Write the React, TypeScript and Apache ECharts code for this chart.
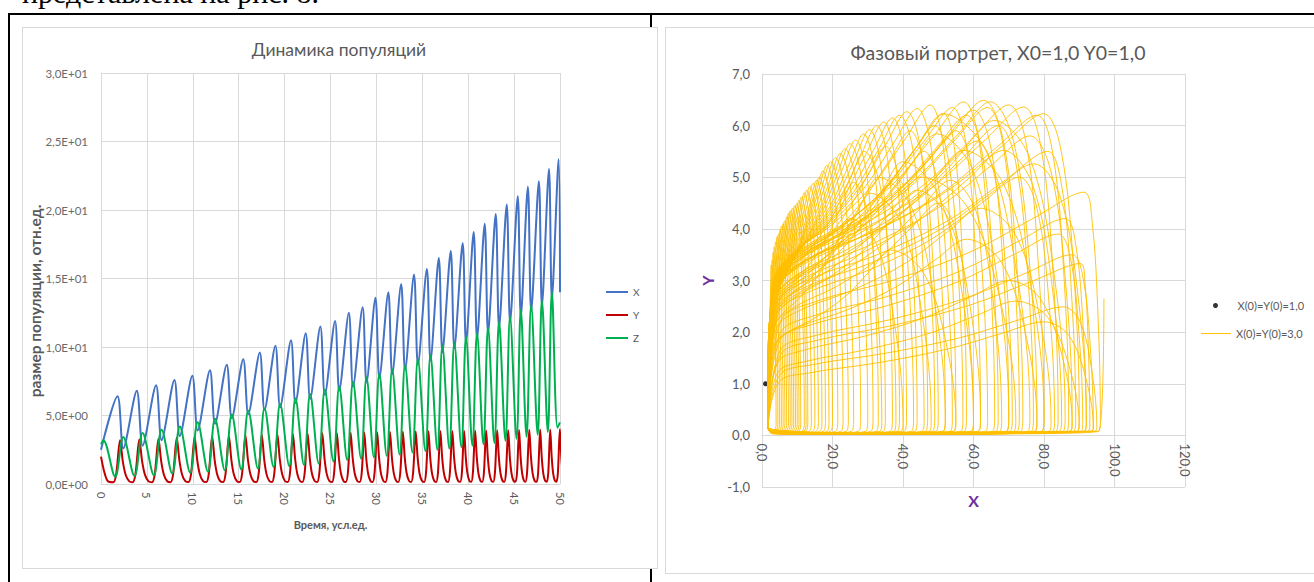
import { useEffect, useRef } from 'react';
import * as echarts from 'echarts';

const FONT = 'Lato, "Noto Sans", sans-serif';

// ---------------- Left chart: "Динамика популяций" ----------------
const dynTitle = 'Динамика популяций';
const seriesNames = ['X', 'Y', 'Z'];
const timeAxisName = 'Время, усл.ед.';
const sizeAxisName = 'размер популяции, отн.ед.';

// times of the X (blue) maxima
const bluePeakT = [1.8, 3.9, 6.0, 8.0, 9.95, 11.87, 13.7, 15.5, 17.3, 19.0, 20.7, 22.3, 23.9, 25.5, 27.0,
  28.5, 29.9, 31.3, 32.7, 34.1, 35.5, 36.8, 38.1, 39.4, 40.6, 41.8, 43.0, 44.2, 45.4, 46.5, 47.7, 48.8, 49.85];
const bluePeakV = [6.4, 6.8, 7.2, 7.6, 7.9, 8.3, 8.7, 9.1, 9.6, 10.1, 10.5, 11.0, 11.5, 11.9, 12.5,
  12.9, 13.6, 14.0, 14.6, 15.3, 15.7, 16.5, 17.0, 17.6, 18.4, 19.0, 19.7, 20.4, 21.0, 21.7, 22.1, 23.0, 23.7];
const blueTroughV = [2.6, 2.8, 3.2, 3.5, 3.9, 4.4, 4.8, 5.1, 5.4, 5.6, 5.9, 6.2, 6.5, 6.8, 7.1,
  7.4, 7.7, 8.0, 8.3, 8.7, 9.0, 9.6, 9.9, 10.3, 10.6, 11.0, 11.4, 11.8, 12.2, 12.6, 13.0, 13.5];
const greenTroughV = [0.53, 0.58, 0.65, 0.77, 0.82, 0.9, 1.0, 1.06, 1.13, 1.25, 1.3, 1.4, 1.5, 1.65, 1.75,
  1.85, 1.95, 2.05, 2.15, 2.3, 2.4, 2.5, 2.6, 2.7, 2.8, 2.9, 3.0, 3.15, 3.3, 3.45, 3.6, 3.8, 4.1];
const greenPeakV = [3.43, 3.72, 3.96, 4.2, 4.5, 4.76, 5.07, 5.36, 5.53, 5.85, 6.26, 6.57, 6.9, 7.14, 7.46,
  7.8, 8.05, 8.37, 8.66, 9.1, 9.4, 10.1, 10.3, 10.75, 11.0, 11.4, 11.85, 12.2, 12.7, 13.07, 13.4, 14.0];
const redPeakV = [3.2, 3.24, 3.3, 3.38, 3.43, 3.48, 3.5, 3.55, 3.6, 3.62, 3.65, 3.68, 3.7, 3.72, 3.74,
  3.76, 3.78, 3.8, 3.82, 3.84, 3.85, 3.86, 3.87, 3.88, 3.9, 3.91, 3.92, 3.93, 3.95, 3.96, 3.97, 3.98, 4.0];

// start / end values read at t = 0 and t = 50
const blueStart = [0, 2.5];
const blueEnd = [50, 14.0];
const greenStart = [[0, 2.9], [0.25, 3.2]];
const greenEnd = [50, 4.5];
const redStart = [[0, 2.0], [0.35, 0.9], [0.75, 0.2]];

// phase of each extremum within a cycle (fraction of the period)
const blueTroughLag = 0.3;
const greenTroughLead = 0.12;
const greenPeakLag = 0.3;
const redPeakLag = 0.13;
const redShapePhase = [-0.35, -0.2, 0, 0.15, 0.3, 0.48];
const redShapeLevel = [0.04, 0.22, 1, 0.5, 0.2, 0.06];

// ---------------- Right chart: phase portrait ----------------
const phaseTitle = 'Фазовый портрет, X0=1,0 Y0=1,0';
const pointName = 'X(0)=Y(0)=1,0';
const lineName = 'X(0)=Y(0)=3,0';
const pointData = [[1, 1]];
// each loop: right-most X, position and height of its top
const phaseRightX = [4, 4.5, 5, 5.5, 6, 6.5, 7, 7.5, 8, 8.5, 9, 9.5, 10, 10.5, 11, 12, 12.5, 13, 14, 15,
  16, 17, 18, 19, 20, 21.5, 23, 24.5, 26, 28, 30, 31.5, 33, 35, 37, 39, 41, 44, 47, 49,
  52, 55, 58, 62, 66, 70, 74, 78, 84, 90, 96, 92, 85, 80, 70, 62, 55, 48, 68, 88,
  95, 93, 88, 76, 82, 94, 72, 60, 86, 91, 40, 52, 78,
  34, 38, 43, 46, 50, 54, 57, 60, 64, 67, 71, 73, 77, 80, 83, 87, 89, 92, 94, 90];
const phasePeakX = [2.6, 2.9, 3.2, 3.5, 3.9, 4.3, 4.7, 5.1, 5.5, 6.0, 6.4, 7.0, 7.5, 8.0, 8.6, 9.3, 9.85, 10.5, 11.2, 12.0,
  12.7, 13.6, 14.5, 15.5, 16.3, 17.3, 18.4, 19.5, 20.8, 22.2, 23.5, 25, 26.5, 28.8, 30.5, 32.5, 34.5, 37, 39, 41.1,
  44, 47.7, 51.5, 54, 57.2, 60, 62.9, 64.8, 74.2, 79.9, 91.3, 77.1, 68.5, 57.2, 49.6, 44, 36.4, 30.7, 53.4, 70,
  85.6, 90.3, 76, 51.5, 62, 80, 45, 40, 66, 84, 25, 33, 58,
  26, 29, 35, 38, 42, 46, 49, 50, 55, 58, 61, 64, 67, 70, 73, 78, 81, 86, 88, 72];
const phasePeakY = [3.3, 3.4, 3.55, 3.65, 3.75, 3.85, 3.9, 3.97, 4.05, 4.1, 4.15, 4.23, 4.3, 4.35, 4.4, 4.45, 4.49, 4.55, 4.62, 4.7,
  4.75, 4.82, 4.88, 4.94, 5.0, 5.12, 5.23, 5.3, 5.38, 5.46, 5.55, 5.65, 5.72, 5.84, 5.92, 6.0, 6.07, 6.15, 6.2, 6.27,
  6.33, 6.4, 6.23, 6.35, 6.46, 6.3, 6.49, 6.46, 6.36, 6.23, 4.71, 5.26, 5.52, 5.52, 5.84, 4.75, 3.59, 4.69, 4.94, 3.0,
  2.49, 3.33, 5.8, 6.23, 4.4, 2.2, 5.0, 5.3, 6.1, 3.9, 4.2, 5.0, 3.8,
  4.9, 5.5, 5.6, 5.0, 5.9, 5.5, 6.0, 4.5, 5.9, 6.2, 5.7, 6.35, 6.0, 6.4, 5.0, 6.2, 5.5, 4.2, 3.5, 2.6];
const phaseLeftX = 1.7;
const phaseBottomY = [0.15, 0.03, 0.08];
const phaseHead = [[3, 3], [2.2, 1.6]];
const phaseTail = [[1.7, 0.15], [60, 0.03], [95.5, 0.08], [97, 2.65]];
// loop outline read from a typical loop (fractions of the loop's size)
const arcRightU = [1, 0.85, 0.5, 0];
const arcRightV = [0.06, 0.5, 0.88, 1];
const arcLeftU = [0.85, 0.65, 0.4, 0.15, 0.04];
const arcLeftV = [0.9, 0.76, 0.64, 0.55, 0.47];

function periodAt(i: number) {
  return i < bluePeakT.length - 1 ? bluePeakT[i + 1] - bluePeakT[i] : bluePeakT[i] - bluePeakT[i - 1];
}

function buildDynamics() {
  const blue: number[][] = [blueStart];
  const green: number[][] = [...greenStart];
  const red: number[][] = [...redStart];
  bluePeakT.forEach((tp, i) => {
    const T = periodAt(i);
    blue.push([tp, bluePeakV[i]]);
    if (i < blueTroughV.length) blue.push([tp + blueTroughLag * T, blueTroughV[i]]);
    green.push([tp - greenTroughLead * T, greenTroughV[i]]);
    if (i < greenPeakV.length) green.push([tp + greenPeakLag * T, greenPeakV[i]]);
    const tr = tp + redPeakLag * T;
    redShapePhase.forEach((ph, k) => red.push([tr + ph * T, redShapeLevel[k] * redPeakV[i]]));
  });
  blue.push(blueEnd);
  green.push(greenEnd);
  return { blue, green, red };
}

function buildPhase() {
  const pts: number[][] = [...phaseHead];
  const xL = phaseLeftX;
  phaseRightX.forEach((xR, i) => {
    const xp = phasePeakX[i];
    const yp = phasePeakY[i];
    pts.push([xL, phaseBottomY[0]]);
    pts.push([xL + 0.5 * (xR - xL), phaseBottomY[1]]);
    pts.push([xR - 0.6, phaseBottomY[2]]);
    arcRightU.forEach((u, k) => pts.push([xp + u * (xR - xp), arcRightV[k] * yp]));
    arcLeftU.forEach((u, k) => pts.push([xL + u * (xp - xL), arcLeftV[k] * yp]));
  });
  phaseTail.forEach((p) => pts.push(p));
  return pts;
}

function sciLabel(v: number) {
  if (v === 0) return '0,0E+00';
  const e = Math.floor(Math.log10(v) + 1e-9);
  const m = v / Math.pow(10, e);
  return m.toFixed(1).replace('.', ',') + 'E+' + String(e).padStart(2, '0');
}
function commaLabel(v: number) {
  return v.toFixed(1).replace('.', ',');
}

const grey = '#595959';
const gridGrey = '#d9d9d9';

function buildOption(): any {
  const dyn = buildDynamics();
  const phase = buildPhase();
  return {
    animation: false,
    textStyle: { fontFamily: FONT },
    title: [
      { text: dynTitle, left: 339, top: 40, textAlign: 'center', padding: 0,
        textStyle: { fontSize: 17.5, fontWeight: 'normal', color: grey, fontFamily: FONT } },
      { text: phaseTitle, left: 998, top: 42, textAlign: 'center', padding: 0,
        textStyle: { fontSize: 19.5, fontWeight: 'normal', color: grey, fontFamily: FONT } },
    ],
    graphic: [
      { type: 'text', x: 35, y: 301, rotation: Math.PI / 2,
        style: { text: sizeAxisName, align: 'center', verticalAlign: 'middle', fill: grey,
          font: 'bold 15.5px ' + FONT } },
    ],
    legend: [
      { data: seriesNames, orient: 'vertical', left: 606, top: 287, itemWidth: 22, itemHeight: 2, itemGap: 13,
        icon: 'rect', selectedMode: false, padding: 0,
        textStyle: { fontSize: 10, color: grey, fontFamily: FONT } },
      { data: [{ name: pointName, icon: 'circle' }], left: 1213, top: 300, itemWidth: 30, itemHeight: 5,
        selectedMode: false, padding: 0, textStyle: { fontSize: 11, color: grey, fontFamily: FONT, padding: [0, 0, 0, 2] } },
      { data: [{ name: lineName, icon: 'rect' }], left: 1201, top: 328, itemWidth: 30, itemHeight: 1,
        selectedMode: false, padding: 0, textStyle: { fontSize: 11, color: grey, fontFamily: FONT } },
    ],
    grid: [
      { left: 101, top: 73, width: 459, height: 411 },
      { left: 762, top: 74, width: 423, height: 413 },
    ],
    xAxis: [
      { type: 'value', gridIndex: 0, min: 0, max: 50, interval: 5,
        axisLine: { show: true, lineStyle: { color: gridGrey } }, axisTick: { show: false },
        splitLine: { show: true, lineStyle: { color: gridGrey } },
        axisLabel: { rotate: -90, fontSize: 11, color: grey, margin: 8, fontFamily: FONT },
        name: timeAxisName, nameLocation: 'middle', nameGap: 35,
        nameTextStyle: { fontSize: 11, fontWeight: 'bold', color: grey, fontFamily: FONT } },
      { type: 'value', gridIndex: 1, min: 0, max: 120, interval: 20, position: 'bottom', offset: -413 / 8,
        axisLine: { show: true, onZero: false, lineStyle: { color: gridGrey } }, axisTick: { show: false },
        splitLine: { show: true, lineStyle: { color: gridGrey } },
        axisLabel: { rotate: -90, fontSize: 13, color: grey, margin: 8, formatter: commaLabel, fontFamily: FONT },
        name: 'X', nameLocation: 'middle', nameGap: 57,
        nameTextStyle: { fontSize: 16, fontWeight: 'bold', color: '#7030A0', fontFamily: FONT } },
    ],
    yAxis: [
      { type: 'value', gridIndex: 0, min: 0, max: 30, interval: 5,
        axisLine: { show: true, lineStyle: { color: gridGrey } }, axisTick: { show: false },
        splitLine: { show: true, lineStyle: { color: gridGrey } },
        axisLabel: { fontSize: 11.5, color: '#6a6a6a', margin: 13, formatter: sciLabel, fontFamily: FONT } },
      { type: 'value', gridIndex: 1, min: -1, max: 7, interval: 1,
        axisLine: { show: true, onZero: false, lineStyle: { color: gridGrey } }, axisTick: { show: false },
        splitLine: { show: true, lineStyle: { color: gridGrey } },
        axisLabel: { fontSize: 13, color: grey, margin: 12, formatter: commaLabel, fontFamily: FONT },
        name: 'Y', nameLocation: 'middle', nameGap: 47,
        nameTextStyle: { fontSize: 16, fontWeight: 'bold', color: '#7030A0', fontFamily: FONT } },
    ],
    series: [
      { name: 'X', type: 'line', xAxisIndex: 0, yAxisIndex: 0, data: dyn.blue, showSymbol: false, smooth: 0.3,
        lineStyle: { width: 2, color: '#4472C4' }, itemStyle: { color: '#4472C4' } },
      { name: 'Y', type: 'line', xAxisIndex: 0, yAxisIndex: 0, data: dyn.red, showSymbol: false, smooth: 0.3,
        lineStyle: { width: 2, color: '#C00000' }, itemStyle: { color: '#C00000' } },
      { name: 'Z', type: 'line', xAxisIndex: 0, yAxisIndex: 0, data: dyn.green, showSymbol: false, smooth: 0.35,
        lineStyle: { width: 2, color: '#00B050' }, itemStyle: { color: '#00B050' } },
      { name: pointName, type: 'scatter', xAxisIndex: 1, yAxisIndex: 1, data: pointData, symbolSize: 5,
        itemStyle: { color: '#000000' } },
      { name: lineName, type: 'line', xAxisIndex: 1, yAxisIndex: 1, data: phase, showSymbol: false, smooth: 0.35,
        lineStyle: { width: 0.9, color: '#FFC000' }, itemStyle: { color: '#FFC000' } },
    ],
  };
}

export default function App() {
  const ref = useRef<HTMLDivElement>(null);
  useEffect(() => {
    if (!ref.current) return;
    const chart = echarts.init(ref.current, undefined, { renderer: 'svg' });
    chart.setOption(buildOption());
    return () => chart.dispose();
  }, []);
  const abs = (l: number, t: number, w: number, h: number, extra: any = {}) => ({
    position: 'absolute' as const, left: l, top: t, width: w, height: h, ...extra,
  });
  return (
    <div style={{ position: 'fixed', left: 0, top: 0, width: 1314, height: 582, overflow: 'hidden', background: '#fff' }}>
      <div style={{ position: 'absolute', left: 22, top: -22, fontFamily: '"Liberation Serif", serif', fontSize: 30,
        lineHeight: '30px', whiteSpace: 'nowrap', color: '#000' }}>представлена на рис. 8.</div>
      <div style={abs(8, 13, 1306, 2, { background: '#000' })} />
      <div style={abs(8, 13, 2, 569, { background: '#000' })} />
      <div style={abs(650, 13, 2, 569, { background: '#000' })} />
      <div style={abs(22, 27, 634, 540, { background: '#fff', border: '1px solid #d9d9d9' })} />
      <div style={abs(665, 27, 660, 545, { background: '#fff', border: '1px solid #d9d9d9' })} />
      <div ref={ref} style={abs(0, 0, 1314, 582)} />
    </div>
  );
}
